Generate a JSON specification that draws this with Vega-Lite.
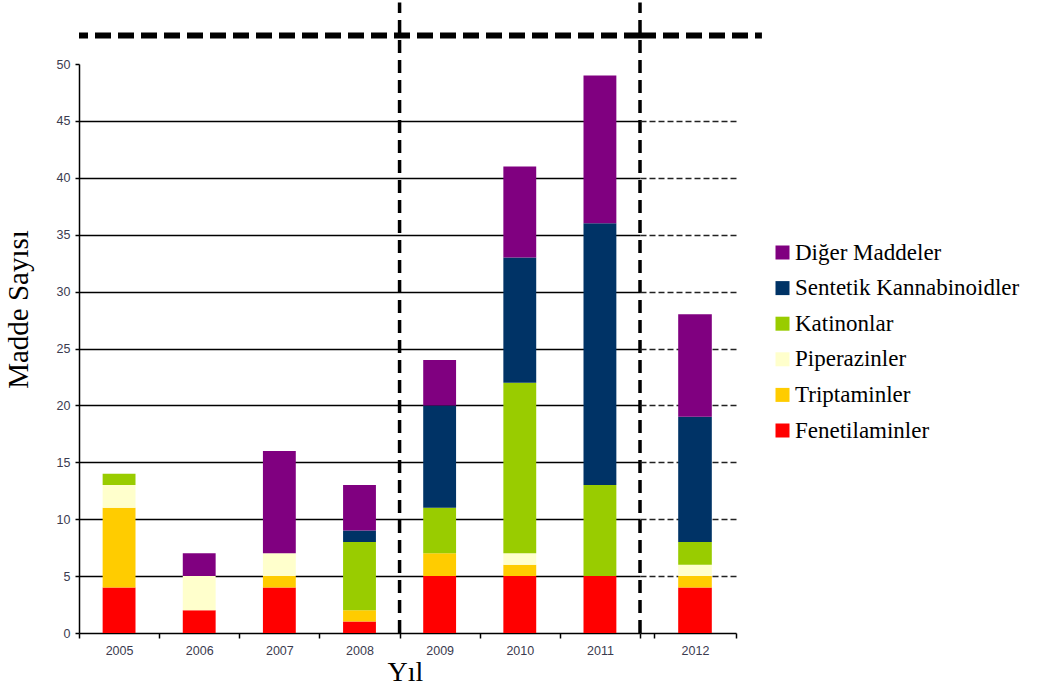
{
  "$schema": "https://vega.github.io/schema/vega-lite/v6.json",
  "background": "white",
  "padding": {"left": 4, "top": 0, "right": 0, "bottom": 0},
  "bounds": "flush",
  "datasets": {
    "madde": [
      {"yil": "2005", "grup": "Fenetilaminler", "sira": 1, "sayi": 4},
      {"yil": "2005", "grup": "Triptaminler", "sira": 2, "sayi": 7},
      {"yil": "2005", "grup": "Piperazinler", "sira": 3, "sayi": 2},
      {"yil": "2005", "grup": "Katinonlar", "sira": 4, "sayi": 1},
      {"yil": "2006", "grup": "Fenetilaminler", "sira": 1, "sayi": 2},
      {"yil": "2006", "grup": "Piperazinler", "sira": 3, "sayi": 3},
      {"yil": "2006", "grup": "Diğer Maddeler", "sira": 6, "sayi": 2},
      {"yil": "2007", "grup": "Fenetilaminler", "sira": 1, "sayi": 4},
      {"yil": "2007", "grup": "Triptaminler", "sira": 2, "sayi": 1},
      {"yil": "2007", "grup": "Piperazinler", "sira": 3, "sayi": 2},
      {"yil": "2007", "grup": "Diğer Maddeler", "sira": 6, "sayi": 9},
      {"yil": "2008", "grup": "Fenetilaminler", "sira": 1, "sayi": 1},
      {"yil": "2008", "grup": "Triptaminler", "sira": 2, "sayi": 1},
      {"yil": "2008", "grup": "Katinonlar", "sira": 4, "sayi": 6},
      {"yil": "2008", "grup": "Sentetik Kannabinoidler", "sira": 5, "sayi": 1},
      {"yil": "2008", "grup": "Diğer Maddeler", "sira": 6, "sayi": 4},
      {"yil": "2009", "grup": "Fenetilaminler", "sira": 1, "sayi": 5},
      {"yil": "2009", "grup": "Triptaminler", "sira": 2, "sayi": 2},
      {"yil": "2009", "grup": "Katinonlar", "sira": 4, "sayi": 4},
      {"yil": "2009", "grup": "Sentetik Kannabinoidler", "sira": 5, "sayi": 9},
      {"yil": "2009", "grup": "Diğer Maddeler", "sira": 6, "sayi": 4},
      {"yil": "2010", "grup": "Fenetilaminler", "sira": 1, "sayi": 5},
      {"yil": "2010", "grup": "Triptaminler", "sira": 2, "sayi": 1},
      {"yil": "2010", "grup": "Piperazinler", "sira": 3, "sayi": 1},
      {"yil": "2010", "grup": "Katinonlar", "sira": 4, "sayi": 15},
      {"yil": "2010", "grup": "Sentetik Kannabinoidler", "sira": 5, "sayi": 11},
      {"yil": "2010", "grup": "Diğer Maddeler", "sira": 6, "sayi": 8},
      {"yil": "2011", "grup": "Fenetilaminler", "sira": 1, "sayi": 5},
      {"yil": "2011", "grup": "Katinonlar", "sira": 4, "sayi": 8},
      {"yil": "2011", "grup": "Sentetik Kannabinoidler", "sira": 5, "sayi": 23},
      {"yil": "2011", "grup": "Diğer Maddeler", "sira": 6, "sayi": 13},
      {"yil": "2012", "grup": "Fenetilaminler", "sira": 1, "sayi": 4},
      {"yil": "2012", "grup": "Triptaminler", "sira": 2, "sayi": 1},
      {"yil": "2012", "grup": "Piperazinler", "sira": 3, "sayi": 1},
      {"yil": "2012", "grup": "Katinonlar", "sira": 4, "sayi": 2},
      {"yil": "2012", "grup": "Sentetik Kannabinoidler", "sira": 5, "sayi": 11},
      {"yil": "2012", "grup": "Diğer Maddeler", "sira": 6, "sayi": 9}
    ],
    "ayrac": [{"yil": "2008"}, {"yil": "2011"}]
  },
  "config": {
    "font": "Liberation Serif",
    "view": {"stroke": null},
    "axis": {
      "labelFont": "Liberation Sans",
      "labelFontSize": 12.5,
      "labelColor": "#3b3b4f",
      "domainColor": "#000",
      "domainWidth": 1.5,
      "tickColor": "#000",
      "tickWidth": 1.5,
      "titleFont": "Liberation Serif",
      "titleFontWeight": "normal",
      "titleColor": "#000"
    },
    "legend": {
      "labelFont": "Liberation Serif",
      "labelFontSize": 23,
      "labelColor": "#000"
    }
  },
  "spacing": 0,
  "hconcat": [
    {
      "width": 561,
      "height": 569,
      "layer": [
        {
          "data": {"name": "madde"},
          "transform": [{"filter": "datum.yil != '2012'"}],
          "mark": {"type": "bar", "width": {"band": 0.41}},
          "encoding": {
            "x": {
              "field": "yil",
              "type": "nominal",
              "scale": {"domain": ["2005", "2006", "2007", "2008", "2009", "2010", "2011"], "paddingInner": 0, "paddingOuter": 0},
              "axis": {"title": "Yıl", "titleFontSize": 28, "titleX": 326, "titlePadding": 2, "labelAngle": 0, "tickBand": "extent", "tickSize": 5, "labelPadding": 6}
            },
            "y": {
              "field": "sayi",
              "type": "quantitative",
              "stack": "zero",
              "scale": {"domain": [0, 50], "nice": false},
              "axis": {
                "title": "Madde Sayısı",
                "titleFontSize": 29,
                "titleY": 245,
                "titlePadding": 23,
                "values": [0, 5, 10, 15, 20, 25, 30, 35, 40, 45, 50],
                "tickSize": 4,
                "labelPadding": 5,
                "grid": true,
                "gridColor": "#000",
                "gridWidth": 1.3,
                "gridOpacity": {"condition": {"test": "datum.value == 0 || datum.value == 50", "value": 0}, "value": 1}
              }
            },
            "color": {
              "field": "grup",
              "type": "nominal",
              "scale": {
                "domain": ["Diğer Maddeler", "Sentetik Kannabinoidler", "Katinonlar", "Piperazinler", "Triptaminler", "Fenetilaminler"],
                "range": ["#800080", "#003366", "#99CC00", "#FFFFCC", "#FFCC00", "#FF0000"]
              },
              "legend": {
                "title": null,
                "orient": "none",
                "legendX": 692,
                "legendY": 177,
                "symbolType": "square",
                "symbolSize": 196,
                "symbolStrokeWidth": 0,
                "labelFont": "Liberation Serif",
                "labelFontSize": 23,
                "labelColor": "#000",
                "labelOffset": 1,
                "rowPadding": 11.6,
                "labelLimit": 400
              }
            },
            "order": {"field": "sira", "type": "quantitative"}
          }
        },
        {
          "data": {"name": "ayrac"},
          "mark": {"type": "rule", "color": "#000", "strokeWidth": 3.5, "strokeDash": [13, 7]},
          "encoding": {
            "x": {"field": "yil", "type": "nominal", "bandPosition": 1},
            "y": {"datum": 0},
            "y2": {"datum": 55.4}
          }
        },
        {
          "data": {"values": [{}]},
          "mark": {"type": "rule", "color": "#000", "strokeWidth": 6, "strokeDash": [16, 7]},
          "encoding": {"y": {"datum": 52.5}}
        }
      ]
    },
    {
      "width": 96,
      "height": 569,
      "layer": [
        {
          "data": {"name": "madde"},
          "transform": [{"filter": "datum.yil == '2012'"}],
          "mark": {"type": "bar", "width": {"band": 0.41}},
          "encoding": {
            "x": {
              "field": "yil",
              "type": "nominal",
              "scale": {"domain": ["2012"], "paddingInner": 0, "paddingOuter": 0.0854, "align": 1},
              "axis": {"title": null, "labelAngle": 0, "tickBand": "extent", "tickSize": 5, "labelPadding": 6}
            },
            "y": {
              "field": "sayi",
              "type": "quantitative",
              "stack": "zero",
              "scale": {"domain": [0, 50], "nice": false},
              "axis": {
                "title": null,
                "labels": false,
                "ticks": false,
                "domain": false,
                "minExtent": 0,
                "maxExtent": 0,
                "values": [0, 5, 10, 15, 20, 25, 30, 35, 40, 45, 50],
                "grid": true,
                "gridColor": "#222",
                "gridWidth": 1.3,
                "gridDash": [6, 3],
                "gridOpacity": {"condition": {"test": "datum.value == 0 || datum.value == 50", "value": 0}, "value": 1}
              }
            },
            "color": {"field": "grup", "type": "nominal"},
            "order": {"field": "sira", "type": "quantitative"}
          }
        },
        {
          "data": {"values": [{"bas": 0, "son": 1.27}]},
          "mark": {"type": "rule", "color": "#000", "strokeWidth": 6, "strokeDash": [16, 7]},
          "encoding": {
            "x": {"field": "bas", "type": "quantitative", "scale": {"domain": [0, 1], "nice": false, "zero": false}, "axis": null},
            "x2": {"field": "son"},
            "y": {"datum": 52.5}
          }
        }
      ],
      "resolve": {"scale": {"x": "independent"}}
    }
  ],
  "resolve": {"scale": {"x": "independent", "y": "independent", "color": "shared"}}
}
